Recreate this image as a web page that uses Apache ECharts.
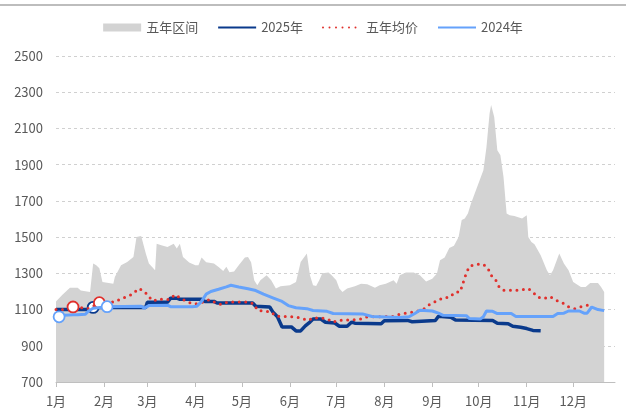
<!DOCTYPE html>
<html><head><meta charset="utf-8">
<script src="https://cdn.jsdelivr.net/npm/echarts@6/dist/echarts.min.js"></script>
<style>html,body{margin:0;padding:0;background:#fff}#c{width:626px;height:414px}</style>
</head><body><div id="c"></div>
<script>
const year = 2025;
const names = ['五年区间', '2025年', '五年均价', '2024年'];
const axisStart = '01-01';
const axisEnd = '12-28';
const yMin = 700, yMax = 2500, yStep = 200;

const rangeDates = ['01-01','01-05','01-10','01-15','01-17','01-23','01-25','01-27','01-29','01-31','02-07','02-08','02-12','02-16','02-20','02-22','02-25','02-28','03-02','03-06','03-07','03-10','03-14','03-18','03-20','03-22','03-24','03-28','04-01','04-03','04-05','04-08','04-13','04-16','04-19','04-21','04-23','04-26','04-29','05-03','05-05','05-07','05-09','05-11','05-13','05-17','05-20','05-23','05-26','06-01','06-05','06-08','06-12','06-14','06-16','06-18','06-20','06-22','06-26','06-28','07-01','07-03','07-05','07-08','07-13','07-17','07-21','07-26','07-29','08-02','08-07','08-09','08-11','08-15','08-20','08-24','08-28','09-01','09-04','09-06','09-09','09-12','09-15','09-18','09-20','09-22','09-24','09-26','10-04','10-06','10-08','10-09','10-11','10-13','10-15','10-17','10-19','10-21','10-24','10-29','11-01','11-02','11-04','11-06','11-10','11-14','11-16','11-18','11-22','11-25','11-28','12-01','12-06','12-09','12-12','12-17','12-19','12-21'];
const rangeMax = [1145,1180,1220,1220,1205,1197,1354,1345,1328,1252,1243,1280,1344,1362,1390,1501,1506,1409,1354,1317,1464,1455,1445,1464,1437,1464,1390,1360,1345,1344,1387,1361,1354,1335,1313,1337,1306,1310,1344,1387,1390,1361,1262,1234,1262,1289,1262,1216,1228,1234,1252,1362,1409,1289,1234,1230,1262,1300,1305,1289,1262,1216,1197,1216,1228,1243,1240,1221,1234,1243,1262,1243,1290,1305,1305,1289,1255,1270,1299,1372,1387,1440,1452,1501,1595,1603,1630,1685,1869,1998,2182,2230,2163,1980,1952,1832,1630,1621,1616,1603,1621,1501,1473,1460,1400,1317,1289,1317,1409,1354,1317,1252,1225,1225,1247,1247,1225,1197];

const dates2025 = ['01-01','01-23','01-25','02-28','03-01','03-14','03-16','03-20','03-22','04-05','04-07','04-13','04-15','05-08','05-10','05-19','05-21','05-24','05-27','06-02','06-05','06-08','06-11','06-14','06-16','06-21','06-24','06-30','07-03','07-08','07-11','07-13','07-30','08-01','08-16','08-19','09-03','09-05','09-13','09-16','10-10','10-13','10-20','10-23','10-28','11-01','11-05','11-10'];
const values2025 = [1100,1100,1112,1112,1140,1140,1163,1163,1157,1157,1145,1145,1136,1136,1118,1114,1087,1060,1004,1004,982,982,1010,1031,1048,1048,1030,1026,1008,1008,1031,1025,1022,1038,1040,1033,1040,1063,1058,1042,1040,1025,1022,1008,1002,995,985,983];

const datesAvg = ['01-01','01-05','01-12','01-18','01-22','01-25','01-29','02-08','02-12','02-16','02-20','02-23','02-27','03-02','03-05','03-08','03-12','03-15','03-19','03-22','03-26','03-30','04-03','04-10','04-14','04-18','04-22','05-05','05-09','05-11','05-16','05-20','05-23','06-05','06-09','06-13','06-16','06-25','06-29','07-02','07-16','07-20','08-07','08-11','08-15','08-20','08-24','08-27','08-31','09-04','09-08','09-12','09-16','09-19','09-21','09-23','09-25','09-29','10-04','10-07','10-09','10-12','10-14','10-17','10-25','10-29','11-02','11-05','11-08','11-12','11-16','11-20','11-24','11-27','12-02','12-05','12-10','12-13'];
const valuesAvg = [1100,1100,1114,1110,1105,1118,1138,1142,1160,1172,1188,1216,1203,1169,1147,1160,1155,1155,1183,1165,1147,1132,1131,1155,1138,1127,1142,1142,1130,1096,1090,1087,1063,1059,1050,1040,1055,1050,1030,1040,1045,1059,1062,1074,1080,1087,1095,1105,1133,1147,1166,1166,1197,1197,1250,1302,1339,1350,1350,1326,1289,1262,1228,1206,1206,1210,1216,1197,1169,1160,1172,1151,1138,1118,1105,1114,1124,1118];

const dates2024 = ['01-03','01-06','01-15','01-20','01-22','01-25','02-03','02-25','02-27','03-02','03-14','03-16','03-30','04-02','04-05','04-08','04-11','04-16','04-21','04-24','04-29','05-05','05-10','05-15','05-21','05-27','05-31','06-05','06-12','06-16','06-25','06-29','07-18','07-24','08-11','08-17','08-21','08-24','09-01','09-05','09-08','09-23','09-25','10-02','10-04','10-06','10-10','10-13','10-22','10-25','11-18','11-21','11-25','11-28','12-05','12-08','12-10','12-13','12-17','12-21'];
const values2024 = [1060,1068,1072,1074,1092,1107,1116,1118,1108,1122,1124,1116,1116,1118,1145,1185,1200,1212,1225,1234,1225,1215,1205,1185,1165,1145,1122,1110,1105,1095,1090,1078,1076,1062,1056,1060,1080,1096,1092,1080,1068,1066,1050,1048,1060,1092,1090,1078,1078,1062,1062,1078,1080,1092,1092,1080,1080,1114,1100,1094];

const markers2025 = ['01-25'];
const markersAvg = ['01-12','01-29'];
const markers2024 = ['01-03','02-03'];

const colRange = '#d3d3d3', col2025 = '#0a3a8c', colAvg = '#e0302c', col2024 = '#65a2fb';
const DAY = 86400000;

function toTime(md) { const p = md.split('-'); return new Date(year, +p[0] - 1, +p[1]).getTime(); }
function toData(dates, vals, markers, color) {
  return dates.map(function (d, i) {
    const item = { value: [toTime(d), vals[i]] };
    if (markers && markers.indexOf(d) >= 0) {
      item.symbol = 'circle';
      item.symbolSize = 11;
      item.itemStyle = { color: '#fff', borderColor: color, borderWidth: 1.8, opacity: 1 };
    }
    return item;
  });
}

const chart = echarts.init(document.getElementById('c'), null, { renderer: 'canvas' });
const font = '"Noto Sans CJK SC", "Noto Sans", sans-serif';
const hideSym = { opacity: 0 };
chart.setOption({
  animation: false,
  backgroundColor: '#fff',
  textStyle: { fontFamily: font },
  graphic: [{ type: 'rect', left: 0, top: 4, shape: { width: 626, height: 2 }, style: { fill: '#bdbdbd' }, silent: true }],
  legend: {
    top: 16, left: 'center', itemWidth: 38, itemHeight: 8, itemGap: 19,
    textStyle: { color: '#595959', fontSize: 13, fontFamily: font },
    data: [
      { name: names[0], icon: 'rect' },
      { name: names[1], itemStyle: hideSym },
      { name: names[2], itemStyle: hideSym },
      { name: names[3], itemStyle: hideSym }
    ]
  },
  grid: { left: 56, right: 11, top: 56, bottom: 32, containLabel: false },
  xAxis: {
    type: 'time', min: toTime(axisStart), max: toTime(axisEnd),
    minInterval: 28 * DAY, maxInterval: 31 * DAY,
    splitLine: { show: false },
    axisLine: { lineStyle: { color: '#bfbfbf', width: 1 } },
    axisTick: { show: true, length: 5, lineStyle: { color: '#bfbfbf' } },
    axisLabel: {
      color: '#595959', fontSize: 13, margin: 13, fontFamily: font, hideOverlap: false,
      formatter: function (v) { const d = new Date(v); return d.getDate() === 1 ? (d.getMonth() + 1) + '月' : ''; }
    }
  },
  yAxis: {
    type: 'value', min: yMin, max: yMax, interval: yStep,
    axisLine: { show: false }, axisTick: { show: false },
    axisLabel: { color: '#595959', fontSize: 13, margin: 13, fontFamily: font, formatter: function (v) { return String(v); } },
    splitLine: { lineStyle: { color: '#d0d0d0', type: [3, 3], width: 1 } }
  },
  series: [
    { name: names[0], type: 'line', data: toData(rangeDates, rangeMax), symbol: 'none',
      color: colRange, lineStyle: { width: 0, color: colRange }, areaStyle: { color: colRange, opacity: 1 }, z: 1 },
    { name: names[1], type: 'line', data: toData(dates2025, values2025, markers2025, col2025), symbol: 'none', showSymbol: true,
      color: col2025, lineStyle: { width: 3.5, color: col2025 }, z: 2 },
    { name: names[2], type: 'line', data: toData(datesAvg, valuesAvg, markersAvg, colAvg), symbol: 'none', showSymbol: true,
      color: colAvg, lineStyle: { width: 3, color: colAvg, type: [0, 6.5], cap: 'round' }, z: 3 },
    { name: names[3], type: 'line', data: toData(dates2024, values2024, markers2024, col2024), symbol: 'none', showSymbol: true,
      color: col2024, lineStyle: { width: 3, color: col2024 }, z: 4 }
  ]
});
</script></body></html>
